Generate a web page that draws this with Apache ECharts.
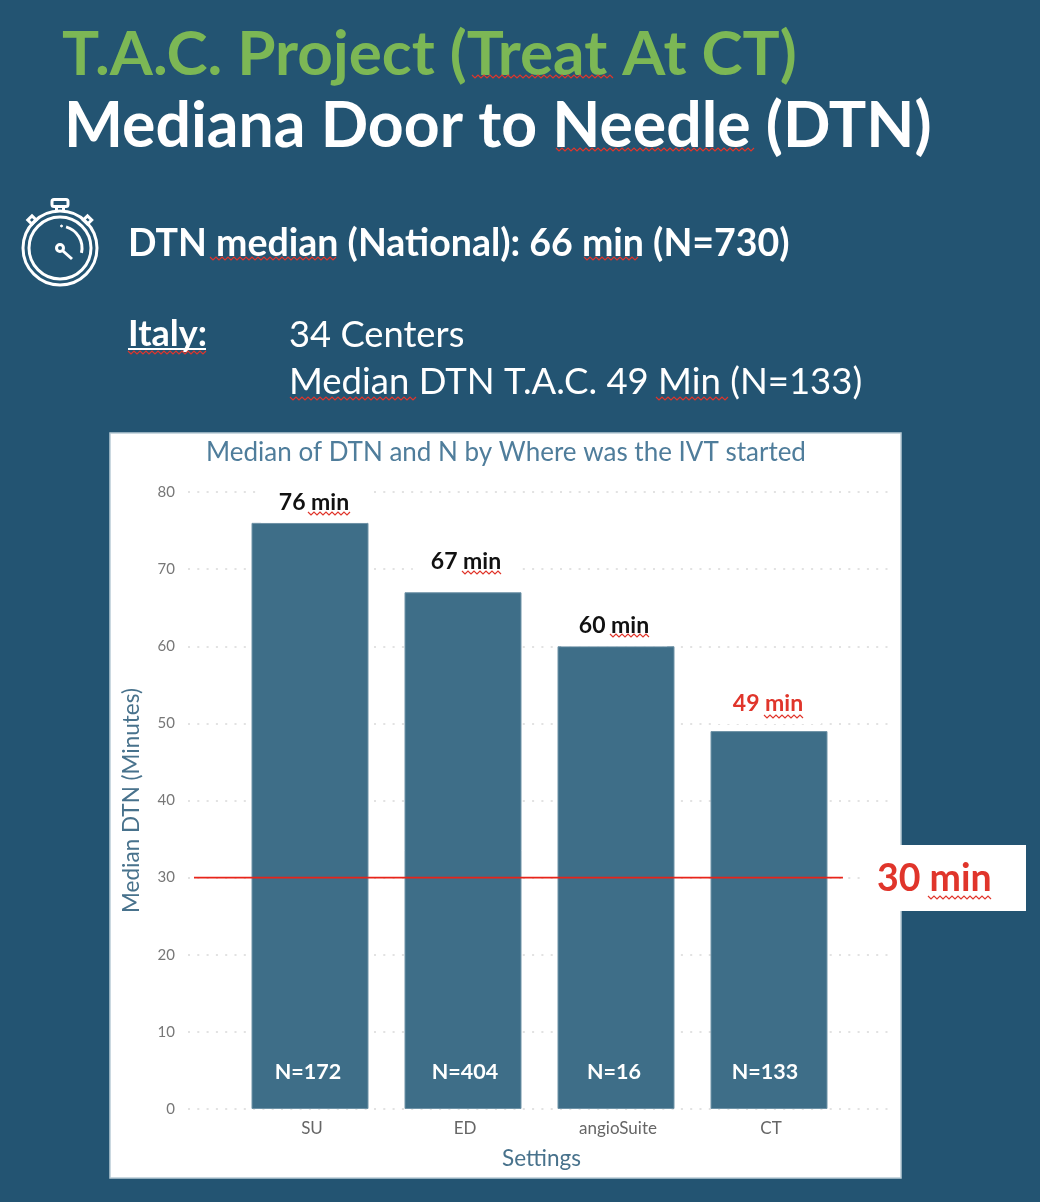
<!DOCTYPE html>
<html><head><meta charset="utf-8">
<style>html,body{margin:0;padding:0;background:#235472}#c{width:1040px;height:1202px}</style>
<script src="https://cdn.jsdelivr.net/npm/echarts@6/dist/echarts.min.js"></script>
</head><body><div id="c"></div>
<script>
const categories = ['SU','ED','angioSuite','CT'];
const medianDTN = [76,67,60,49];
const sampleN = [172,404,16,133];
const yTicks = {min:0,max:80,interval:10};
const targetMinutes = 30;
const targetLineSpan = [0.0085,0.929];
const FONT = 'Lato, Carlito, "Open Sans", sans-serif';
const WHITE='#ffffff', RED='#e0352b';
// small hand placement of the value and N labels, as in the slide
const topLabelStyle = [{d:0,dx:4},{d:10,dx:3},{d:0,dx:-2},{d:7,dx:-1}];
const nLabelShift = [-2,2,-2,-4];

function squiggle(x0,x1,y,color){
  const pts=[]; let i=0;
  for(let x=x0;x<=x1;x+=3){pts.push([x,y+(i%2?2:-1)]);i++;}
  return {type:'polyline',z:30,silent:true,shape:{points:pts},style:{stroke:color||'#e0352b',fill:null,lineWidth:1.2}};
}
function slideText(text,x,y,size,color,weight){
  return {type:'text',z:20,silent:true,x:x,y:y,style:{text:text,fontFamily:FONT,fontSize:size,fontWeight:weight||'bold',fill:color,textVerticalAlign:'middle',textBaseline:'middle'}};
}
const stroke={stroke:WHITE,fill:null,lineWidth:3};
const stopwatch=[
 {type:'circle',shape:{cx:60,cy:248,r:37},style:stroke},
 {type:'circle',shape:{cx:60,cy:248,r:31},style:stroke},
 {type:'rect',shape:{x:52,y:199.5,width:16,height:7,r:2},style:stroke},
 {type:'line',shape:{x1:56.5,y1:207,x2:56.5,y2:211},style:stroke},
 {type:'line',shape:{x1:63.5,y1:207,x2:63.5,y2:211},style:stroke},
 {type:'rect',x:32,y:220,rotation:Math.PI/4,shape:{x:-3,y:-3,width:6,height:6},style:stroke},
 {type:'rect',x:87.5,y:220,rotation:Math.PI/4,shape:{x:-3,y:-3,width:6,height:6},style:stroke},
 {type:'arc',shape:{cx:60,cy:248,r:22,startAngle:-Math.PI/2+0.28,endAngle:Math.PI*0.07,clockwise:true},style:stroke},
 {type:'circle',shape:{cx:61.5,cy:226,r:1},style:{fill:WHITE,stroke:WHITE}},
 {type:'circle',shape:{cx:60,cy:248,r:3.5},style:stroke},
 {type:'line',shape:{x1:63,y1:251,x2:72,y2:259},style:stroke}
].map(e=>Object.assign(e,{z:20,silent:true}));

const graphics=[
 {type:'rect',z:0,silent:true,shape:{x:110,y:433,width:791,height:745},style:{fill:WHITE,stroke:'#b9ccd6',lineWidth:1.5}},
 {type:'rect',z:15,silent:true,shape:{x:860,y:845,width:166,height:66},style:{fill:WHITE}},
 slideText('T.A.C. Project (Treat At CT)',62,55,62,'#7cb755'),
 slideText('Mediana Door to Needle (DTN)',64,127,62.5,WHITE),
 slideText('DTN median (National): 66 min (N=730)',128,244,37.5,WHITE),
 slideText('Italy:',128,334,36,WHITE),
 {type:'line',z:20,silent:true,shape:{x1:128,y1:349,x2:206,y2:349},style:{stroke:WHITE,lineWidth:2}},
 slideText('34 Centers',289,335,36.3,WHITE,'normal'),
 slideText('Median DTN T.A.C. 49 Min (N=133)',289,382,36.5,WHITE,'normal'),
 slideText('30 min',877,879,37.5,RED),
 ...stopwatch,
 squiggle(472,614,76),squiggle(556,755,149),
 squiggle(210,336,258),squiggle(584,640,258),
 squiggle(128,206,352),
 squiggle(290,416,398),squiggle(656,728,398),
 squiggle(308,350,513),squiggle(462,501,572),squiggle(610,650,635),squiggle(764,804,716),
 squiggle(928,991,897)
];

const option={
 animation:false,
 backgroundColor:'#235472',
 title:{text:'Median of DTN and N by Where was the IVT started',left:501,top:435,textAlign:'center',
   textStyle:{fontFamily:FONT,fontSize:26,fontWeight:'normal',color:'#4f7d9b'}},
 grid:[
  {left:188,top:492,width:705,height:617},
  {left:233.5,top:492,width:612,height:617}
 ],
 xAxis:[
  {type:'value',gridIndex:0,min:0,max:1,show:false},
  {type:'category',gridIndex:1,data:categories,
   name:'Settings',nameLocation:'middle',nameGap:38,
   nameTextStyle:{fontFamily:FONT,fontSize:22.5,color:'#48728c',padding:[0,0,0,4]},
   axisLine:{show:false},axisTick:{show:false},
   axisLabel:{margin:11,fontFamily:FONT,fontSize:17,color:'#666666',padding:[0,0,0,4]}}
 ],
 yAxis:[
  {type:'value',gridIndex:0,min:yTicks.min,max:yTicks.max,interval:yTicks.interval,
   name:'Median DTN (Minutes)',nameLocation:'middle',nameGap:45,
   nameTextStyle:{fontFamily:FONT,fontSize:22.5,color:'#48728c'},
   axisLine:{show:false},axisTick:{show:false},
   axisLabel:{margin:13,fontFamily:FONT,fontSize:15,color:'#777777'},
   splitLine:{show:true,lineStyle:{color:'#e2e2e2',width:2,type:[2,7.3]}}},
  {type:'value',gridIndex:1,min:yTicks.min,max:yTicks.max,interval:yTicks.interval,show:false,splitLine:{show:false}}
 ],
 series:[
  {type:'line',xAxisIndex:0,yAxisIndex:0,z:12,silent:true,symbol:'none',
   lineStyle:{color:'#e8241a',width:1.6,type:'solid'},itemStyle:{color:RED},
   data:targetLineSpan.map(x=>[x,targetMinutes])},
  {type:'bar',xAxisIndex:1,yAxisIndex:1,barWidth:117,barGap:'-100%',z:5,
   itemStyle:{color:'#3e6e88',borderColor:'#6f93a7',borderWidth:1},
   data:medianDTN.map((v,i)=>({value:v,label:{
     color:categories[i]==='CT'?RED:'#111111',
     distance:topLabelStyle[i].d,offset:[topLabelStyle[i].dx,0]}})),
   label:{show:true,position:'top',formatter:p=>p.value+' min',fontFamily:FONT,fontWeight:'bold',fontSize:23,
     backgroundColor:WHITE,padding:[2,18,9,18]}},
  {type:'bar',xAxisIndex:1,yAxisIndex:1,barWidth:117,barGap:'-100%',z:6,
   itemStyle:{color:'rgba(0,0,0,0)'},
   data:medianDTN.map((v,i)=>({value:v,label:{offset:[nLabelShift[i],0]}})),
   label:{show:true,position:'insideBottom',distance:26,formatter:p=>'N='+sampleN[p.dataIndex],
     fontFamily:FONT,fontSize:21.5,fontWeight:'bold',color:WHITE}}
 ],
 graphic:{elements:graphics}
};
const chart=echarts.init(document.getElementById('c'),null,{renderer:'canvas',width:1040,height:1202});
chart.setOption(option);
</script></body></html>
